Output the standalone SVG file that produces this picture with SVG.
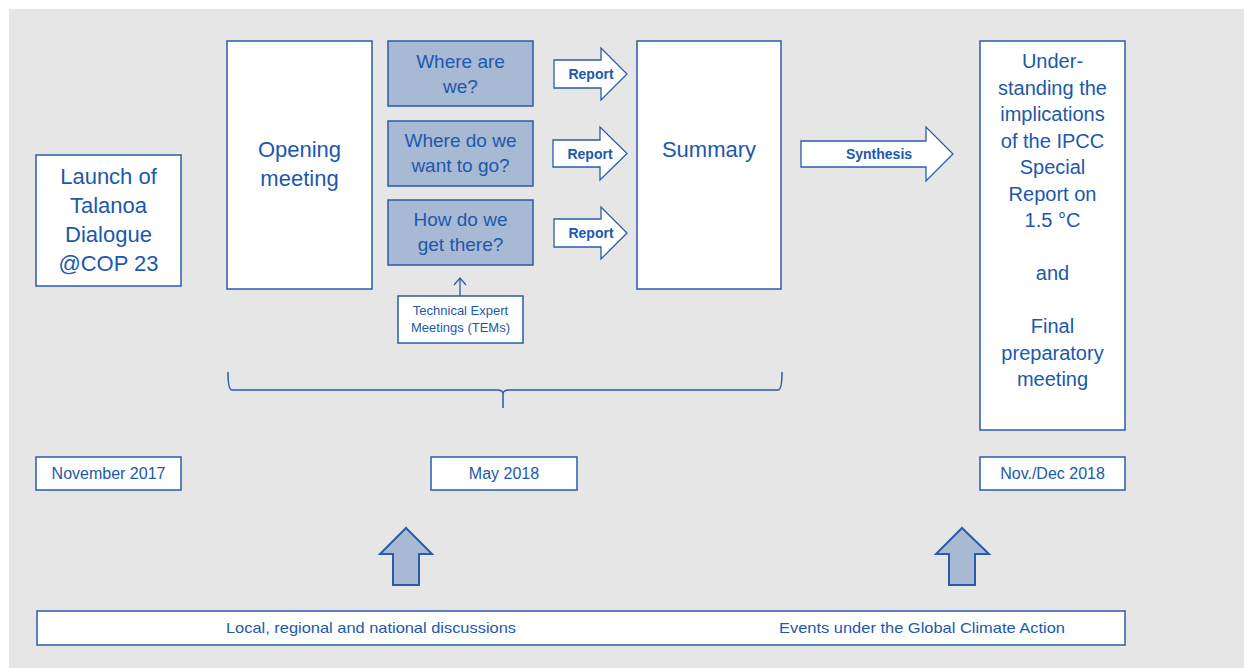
<svg xmlns="http://www.w3.org/2000/svg" width="1244" height="668" viewBox="0 0 1244 668">
<style>
.box{fill:#ffffff;stroke:#2a5caa;stroke-width:1.5}
.q{fill:#a7b9d3;stroke:#2a5caa;stroke-width:1.5}
.arr{fill:#ffffff;stroke:#2a5caa;stroke-width:1.3}
.up{fill:#a7b9d3;stroke:#2a5caa;stroke-width:2}
text{font-family:"Liberation Sans",Arial,sans-serif;fill:#1c58ad;text-anchor:middle}
.big{font-size:22px}
.mid{font-size:19px}
.rt{font-size:20px}
.lbl{font-size:14px;font-weight:bold}
.sm{font-size:13px}
.dt{font-size:16px}
.bt{font-size:15px}
</style>
<rect x="9" y="9" width="1235" height="659" fill="#e6e6e6"/>
<g id="launch">
<rect class="box" x="36" y="155" width="145" height="131"/>
<text class="big" x="108.5" y="184">Launch of</text>
<text class="big" x="108.5" y="213">Talanoa</text>
<text class="big" x="108.5" y="242">Dialogue</text>
<text class="big" x="108.5" y="271">@COP 23</text>
</g>
<g id="opening">
<rect class="box" x="227" y="41" width="145" height="248"/>
<text class="big" x="299.5" y="157">Opening</text>
<text class="big" x="299.5" y="186">meeting</text>
</g>
<g id="where">
<rect class="q" x="388" y="41" width="145" height="65"/>
<text class="mid" x="460.5" y="68">Where are</text>
<text class="mid" x="460.5" y="93">we?</text>
</g>
<g id="want">
<rect class="q" x="388" y="121" width="145" height="65"/>
<text class="mid" x="460.5" y="147">Where do we</text>
<text class="mid" x="460.5" y="172">want to go?</text>
</g>
<g id="how">
<rect class="q" x="388" y="200" width="145" height="65"/>
<text class="mid" x="460.5" y="226">How do we</text>
<text class="mid" x="460.5" y="251">get there?</text>
</g>
<g id="tem">
<rect class="box" x="398" y="296" width="125" height="47" stroke-width="1.2"/>
<text class="sm" x="460.5" y="315">Technical Expert</text>
<text class="sm" x="460.5" y="332">Meetings (TEMs)</text>
</g>
<g id="summary">
<rect class="box" x="637" y="41" width="144" height="248"/>
<text class="big" x="709" y="157">Summary</text>
</g>
<g id="understanding">
<rect class="box" x="980" y="41" width="145" height="389"/>
<text class="rt" x="1052.5" y="68">Under-</text>
<text class="rt" x="1052.5" y="95">standing the</text>
<text class="rt" x="1052.5" y="121">implications</text>
<text class="rt" x="1052.5" y="148">of the IPCC</text>
<text class="rt" x="1052.5" y="174">Special</text>
<text class="rt" x="1052.5" y="201">Report on</text>
<text class="rt" x="1052.5" y="227">1.5 °C</text>
<text class="rt" x="1052.5" y="280">and</text>
<text class="rt" x="1052.5" y="333">Final</text>
<text class="rt" x="1052.5" y="360">preparatory</text>
<text class="rt" x="1052.5" y="386">meeting</text>
</g>
<g id="nov2017">
<rect class="box" x="36" y="457" width="145" height="33"/>
<text class="dt" x="108.5" y="479">November 2017</text>
</g>
<g id="may2018">
<rect class="box" x="431" y="457" width="146" height="33"/>
<text class="dt" x="504" y="479">May 2018</text>
</g>
<g id="dec2018">
<rect class="box" x="980" y="457" width="145" height="33"/>
<text class="dt" x="1052.5" y="479">Nov./Dec 2018</text>
</g>
<g id="bottom">
<rect class="box" x="37" y="611" width="1088" height="34" stroke-width="2"/>
<text class="bt" x="371" y="633" textLength="290" lengthAdjust="spacingAndGlyphs">Local, regional and national discussions</text>
<text class="bt" x="922" y="633" textLength="286" lengthAdjust="spacingAndGlyphs">Events under the Global Climate Action</text>
</g>
<g id="connectors">
<g id="report1">
<path class="arr" d="M554,60 H601 V48 L627,74 L601,100 V88 H554 Z"/>
<text class="lbl" x="591" y="79">Report</text>
</g>
<g id="report2">
<path class="arr" d="M553,140 H600 V127 L627,153.5 L600,180 V167 H553 Z"/>
<text class="lbl" x="590" y="159">Report</text>
</g>
<g id="report3">
<path class="arr" d="M554,219 H601 V207 L627,233 L601,259 V247 H554 Z"/>
<text class="lbl" x="591" y="238">Report</text>
</g>
<g id="synthesis">
<path class="arr" d="M801,141 H926 V127 L953,154 L926,181 V167 H801 Z"/>
<text class="lbl" x="879" y="159">Synthesis</text>
</g>
<g id="temarrow" fill="none" stroke="#2a5caa" stroke-width="1.3">
<line x1="460" y1="296" x2="460" y2="278"/>
<polyline points="454,285 460,278 466,285"/>
</g>
<path id="brace" fill="none" stroke="#2a5caa" stroke-width="1.5" d="M228,372 Q228,390 232,390 H497 Q503,390 503,394 V408 M503,408 V394 Q503,390 509,390 H778 Q782,390 782,372"/>
<path id="up1" class="up" d="M393,585 V554 H380 L406,528 L432,554 H419 V585 Z"/>
<path id="up2" class="up" d="M949,585 V554 H936 L962,528 L989,554 H975 V585 Z"/>
</g>
</svg>
